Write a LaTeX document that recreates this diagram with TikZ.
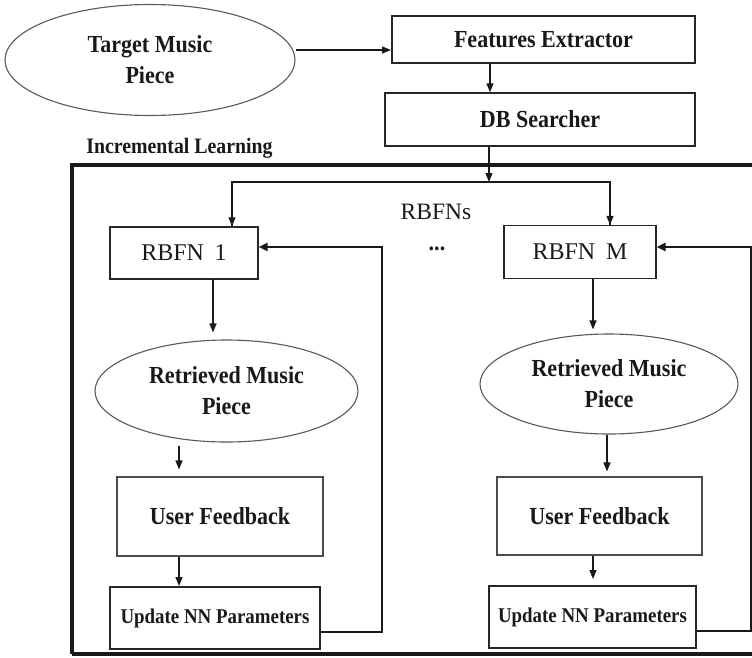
\documentclass[tikz,border=0pt]{standalone}
\usepackage{fontspec}
\setmainfont{Liberation Serif}[FakeStretch=0.9]
\newfontfamily\plainserif{Liberation Serif}
\usetikzlibrary{shapes.geometric,arrows.meta}

\begin{document}
\begin{tikzpicture}[x=1pt,y=-1pt,
  lbl/.style={font=\bfseries\fontsize{24.5}{31}\selectfont, text=black!90, align=center},
  boxnode/.style={lbl, draw=black!85, line width=1.4pt, rectangle, inner sep=0pt},
  thinbox/.style={boxnode, draw=black!70, line width=1.1pt},
  heavybox/.style={boxnode, line width=2pt},
  rbfnbox/.style={draw=black!85, line width=1.4pt, rectangle, inner sep=0pt,
    font=\plainserif\fontsize{24}{28}\selectfont, text=black!90},
  oval/.style={lbl, ellipse, draw=black!65, line width=1.1pt, inner sep=0pt},
  arr/.style={-{Triangle[length=9pt,width=7pt]}, line width=1.3pt, draw=black!90},
  fbarr/.style={-{Triangle[length=9pt,width=8pt]}, line width=2.3pt, draw=black!90},
  frameline/.style={line width=4.5pt, draw=black!90}
]
\clip (0,0) rectangle (752,657);

% top of the pipeline
\node[oval, minimum width=290pt, minimum height=111pt] (target) at (150,60) {Target Music\\Piece};
\node[heavybox, minimum width=303pt, minimum height=47pt] (fe) at (543.5,39.5) {Features Extractor};
\node[boxnode, minimum width=310pt, minimum height=53pt] (db) at (540,119.5) {DB Searcher};

% incremental learning frame
\node[lbl, font=\bfseries\fontsize{22}{26}\selectfont] (inc) at (179.5,148) {Incremental Learning};
\draw[frameline] (72,654) -- (72,165) -- (770,165);
\draw[frameline] (72,654) -- (770,654);

% RBFN boxes
\node[rbfnbox, minimum width=148pt, minimum height=52pt] (rbfn1) at (184,253) {RBFN\hspace{0.45em}1};
\node[rbfnbox, minimum width=152pt, minimum height=53pt] (rbfnM) at (580,252) {RBFN\hspace{0.45em}M};
\node[font=\plainserif\fontsize{23.5}{28}\selectfont, text=black!90] (rbfns) at (436,212) {RBFNs};
\node[lbl] (dots) at (437,249) {...};

% left column
\node[oval, minimum width=263pt, minimum height=102pt] (ret1) at (226.5,391) {Retrieved Music\\Piece};
\node[thinbox, minimum width=206pt, minimum height=79pt] (uf1) at (220,516.5) {User Feedback};
\node[heavybox, font=\bfseries\fontsize{21}{26}\selectfont, minimum width=210pt, minimum height=62pt] (up1) at (215,618) {Update NN Parameters};

% right column
\node[oval, minimum width=258pt, minimum height=100pt] (ret2) at (609,384) {Retrieved Music\\Piece};
\node[thinbox, minimum width=205pt, minimum height=78pt] (uf2) at (599.5,516) {User Feedback};
\node[heavybox, font=\bfseries\fontsize{21}{26}\selectfont, minimum width=207pt, minimum height=62pt] (up2) at (592.5,617) {Update NN Parameters};

% main flow
\draw[arr] ([yshift=10pt]target.east) -- ([yshift=10pt]target.east -| fe.west);
\draw[arr] ([xshift=-53.5pt]fe.south) -- ([xshift=-53.5pt]fe.south |- db.north);
\coordinate (split) at (489,182);
\draw[arr] (db.south -| split) -- (split);
\draw[line width=1.3pt, draw=black!90] (split) -| ([xshift=48pt]rbfn1.north);
\draw[arr] ([xshift=48pt]rbfn1.north |- split) -- ([xshift=48pt]rbfn1.north);
\draw[line width=1.3pt, draw=black!90] (split) -| ([xshift=30pt]rbfnM.north);
\draw[arr] ([xshift=30pt]rbfnM.north |- split) -- ([xshift=30pt]rbfnM.north);

% left column flow
\draw[arr, shorten >=7pt] ([xshift=29pt]rbfn1.south) -- ([xshift=29pt]rbfn1.south |- ret1.north);
\draw[arr, shorten <=3pt, shorten >=7pt] ([xshift=-41pt]uf1.north |- ret1.south) -- ([xshift=-41pt]uf1.north);
\draw[arr] ([xshift=-41pt]uf1.south) -- ([xshift=-41pt]uf1.south |- up1.north);
\draw[fbarr] ([yshift=-14pt]up1.east) -| ([xshift=123pt,yshift=6pt]rbfn1.east) -- ([yshift=6pt]rbfn1.east);

% right column flow
\draw[arr, shorten >=4pt] ([xshift=13pt]rbfnM.south) -- ([xshift=13pt]rbfnM.south |- ret2.north);
\draw[arr, shorten >=5pt] ([xshift=7.5pt]uf2.north |- ret2.south) -- ([xshift=7.5pt]uf2.north);
\draw[arr, shorten >=6pt] ([xshift=-6.5pt]uf2.south) -- ([xshift=-6.5pt]uf2.south |- up2.north);
\draw[fbarr] ([yshift=-14pt]up2.east) -| ([xshift=94pt,yshift=5pt]rbfnM.east) -- ([yshift=5pt]rbfnM.east);
\end{tikzpicture}
\end{document}
